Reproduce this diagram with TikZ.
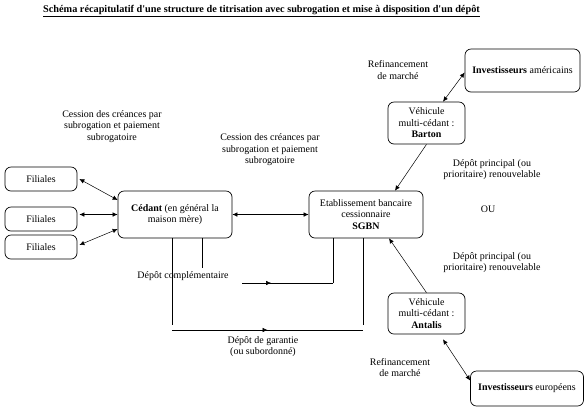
\documentclass[tikz,border=0pt]{standalone}
\usepackage{fontspec}
\setmainfont{Liberation Serif}
\usetikzlibrary{arrows.meta,decorations.markings,calc}
\begin{document}
\begin{tikzpicture}[x=1bp,y=-1bp,
  every node/.style={font=\fontsize{10}{11.5}\selectfont, inner sep=0pt},
  boxa/.style={draw, rounded corners=6bp, line width=0.7pt, align=center},
  lab/.style={align=center},
  conn/.style={line width=0.5pt},
  tip/.style={-{Latex[length=5bp,width=4.5bp]}},
  tips/.style={{Latex[length=5bp,width=4.5bp]}-{Latex[length=5bp,width=4.5bp]}},
  midarrow/.style={postaction={decorate}, decoration={markings, mark=at position #1 with {\arrow{Latex[length=5bp,width=4.5bp]}}}}
]
\useasboundingbox (0,0) rectangle (586,408);
% title
\node[font=\fontsize{10.3}{12}\selectfont] (title) at (261.5,11) {\underline{\textbf{Schéma récapitulatif d\textquotesingle une structure de titrisation avec subrogation et mise à disposition d\textquotesingle un dépôt}}};
% boxes
\node[boxa, minimum width=72bp, minimum height=24bp] (fil1) at (41,179) {Filiales};
\node[boxa, minimum width=72bp, minimum height=24bp] (fil2) at (41,219) {Filiales};
\node[boxa, minimum width=72bp, minimum height=24bp] (fil3) at (41,247) {Filiales};
\node[boxa, minimum width=114bp, minimum height=47bp] (cedant) at (175,214.5) {\textbf{Cédant} (en général la\\maison mère)};
\node[boxa, minimum width=114bp, minimum height=47bp] (sgbn) at (366,214.5) {Etablissement bancaire\\cessionnaire\\\textbf{SGBN}};
\node[boxa, minimum width=77bp, minimum height=42bp] (barton) at (426.5,123) {Véhicule\\multi-cédant :\\\textbf{Barton}};
\node[boxa, minimum width=77bp, minimum height=41bp] (antalis) at (426.5,313.5) {Véhicule\\multi-cédant :\\\textbf{Antalis}};
\node[boxa, minimum width=115bp, minimum height=43bp] (invam) at (522.5,70.5) {\textbf{Investisseurs} américains};
\node[boxa, minimum width=113bp, minimum height=35bp] (inveu) at (527,388.5) {\textbf{Investisseurs} européens};
% labels
\node[lab] (lab1) at (112,126.5) {Cession des créances par\\subrogation et paiement\\subrogatoire};
\node[lab] (lab2) at (270,150) {Cession des créances par\\subrogation et paiement\\subrogatoire};
\node[lab] (ref1) at (398,70) {Refinancement\\de marché};
\node[lab] (dep1) at (492,169.5) {Dépôt principal (ou\\prioritaire) renouvelable};
\node[lab] (ou) at (488,209) {OU};
\node[lab] (dep2) at (492,262.5) {Dépôt principal (ou\\prioritaire) renouvelable};
\node[lab] (comp) at (183,276) {Dépôt complémentaire};
\node[lab] (gar) at (263,346.5) {Dépôt de garantie\\(ou subordonné)};
\node[lab] (ref2) at (400,367.5) {Refinancement\\de marché};
% connectors
\draw[conn,tips] ([xshift=2bp]fil1.east) -- ([yshift=14.5bp]cedant.west);
\draw[conn,tips] ([xshift=2bp]fil2.east |- cedant.west) -- (cedant.west);
\draw[conn,tips] ([xshift=2bp,yshift=2bp]fil3.east) -- ([yshift=-14.5bp]cedant.west);
\draw[conn,tips] (cedant.east) -- (sgbn.west);
\draw[conn,tip] (barton.south) -- ([xshift=29bp]sgbn.north);
\draw[conn,tip] (antalis.north) -- ([xshift=23bp]sgbn.south);
\draw[conn,tips] ([xshift=16.5bp]barton.north) -- ([yshift=-2bp]invam.west);
\draw[conn,tips] ([xshift=16.5bp,yshift=-5bp]antalis.south) -- ([yshift=8bp]inveu.west);
% lower deposit lines
\coordinate (g1) at (172,325);
\coordinate (g2) at (363,325);
\coordinate (h1) at (172,330);
\coordinate (h2) at (363,330);
\coordinate (c1) at (202,268);
\coordinate (d1) at (242,283);
\coordinate (d2) at (333,283);
\draw[conn] (cedant.south -| g1) -- (g1);
\draw[conn] (sgbn.south -| g2) -- (g2);
\draw[conn,midarrow=0.5] (h1) -- (h2);
\draw[conn] (cedant.south -| c1) -- (c1);
\draw[conn,midarrow=0.32] (d1) -- (d2);
\draw[conn] (d2) -- (sgbn.south -| d2);
\end{tikzpicture}
\end{document}
